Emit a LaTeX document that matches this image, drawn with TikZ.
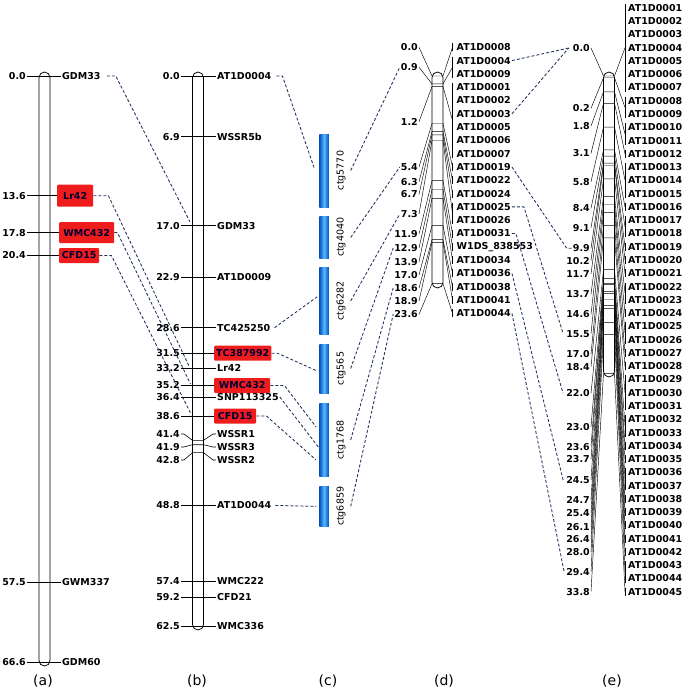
\documentclass[tikz,border=0pt]{standalone}
\usepackage{fontspec}
\setmainfont{DejaVu Sans}
\usetikzlibrary{calc,positioning}

\definecolor{lnk}{RGB}{30,48,95}
\definecolor{qtlred}{RGB}{238,28,28}
\definecolor{ctgdark}{RGB}{8,78,190}
\definecolor{ctglight}{RGB}{80,185,255}

\tikzstyle{chrom} = [draw=black, fill=white, line width=0.75pt, rounded corners=5.5pt, minimum width=11pt, inner sep=0pt]
\tikzstyle{cmnum} = [anchor=east, inner sep=1pt, font=\fontsize{9.5}{11}\selectfont\bfseries]
\tikzstyle{locus} = [anchor=west, inner sep=1pt, font=\fontsize{9.5}{11}\selectfont\bfseries]
\tikzstyle{qtl} = [locus, fill=qtlred, inner xsep=2pt, text=black!80!blue, rounded corners=1pt]
\tikzstyle{ctg} = [left color=ctgdark, right color=ctgdark, middle color=ctglight, minimum width=9.5pt, inner sep=0pt]
\tikzstyle{ctgname} = [rotate=90, inner sep=1pt, font=\fontsize{9.5}{10}\selectfont]
\tikzstyle{rung} = [black, line width=0.6pt]
\tikzstyle{fanline} = [black, line width=0.45pt]
\tikzstyle{hlink} = [lnk, densely dashed, line width=0.85pt]
\tikzstyle{panel} = [font=\fontsize{14}{16}\selectfont]

\begin{document}
\begin{tikzpicture}[x=1pt, y=-1pt]
    \useasboundingbox (0,0) rectangle (685,693);

    % chromosome (a)
    \node[chrom, minimum height=594pt] (chrA) at (44.5,369) {};
      \node[cmnum] (an1) at (27,76) {0.0};
      \node[locus] (am1) at (61,76) {GDM33};
      \node[cmnum] (an2) at (27,195.7) {13.6};
      \node[qtl, minimum width=36pt, minimum height=22pt] (am2) at (57,195.7) {Lr42};
      \node[cmnum] (an3) at (27,232.6) {17.8};
      \node[qtl, minimum width=55pt, minimum height=21pt] (am3) at (59,232.6) {WMC432};
      \node[cmnum] (an4) at (27,255.5) {20.4};
      \node[qtl, minimum width=40pt, minimum height=15pt] (am4) at (59,255.5) {CFD15};
      \node[cmnum] (an5) at (27,582) {57.5};
      \node[locus] (am5) at (61,582) {GWM337};
      \node[cmnum] (an6) at (27,662.1) {66.6};
      \node[locus] (am6) at (61,662.1) {GDM60};
      \draw[rung] (an1.east) -- (am1.west);
      \draw[rung] (an2.east) -- (am2.west);
      \draw[rung] (an3.east) -- (am3.west);
      \draw[rung] (an4.east) -- (am4.west);
      \draw[rung] (an5.east) -- (am5.west);
      \draw[rung] (an6.east) -- (am6.west);

    % chromosome (b)
    \node[chrom, minimum height=558pt] (chrB) at (198,351) {};
      \node[cmnum] (bn1) at (181,76) {0.0};
      \node[locus] (bm1) at (216,76) {AT1D0004};
      \node[cmnum] (bn2) at (181,136.7) {6.9};
      \node[locus] (bm2) at (216,136.7) {WSSR5b};
      \node[cmnum] (bn3) at (181,225.6) {17.0};
      \node[locus] (bm3) at (216,225.6) {GDM33};
      \node[cmnum] (bn4) at (181,277.5) {22.9};
      \node[locus] (bm4) at (216,277.5) {AT1D0009};
      \node[cmnum] (bn5) at (181,327.7) {28.6};
      \node[locus] (bm5) at (216,327.7) {TC425250};
      \node[cmnum] (bn6) at (181,353.2) {31.5};
      \node[qtl, minimum width=57pt, minimum height=15pt] (bm6) at (214,353.2) {TC387992};
      \node[cmnum] (bn7) at (181,368.2) {33.2};
      \node[locus] (bm7) at (216,368.2) {Lr42};
      \node[cmnum] (bn8) at (181,385.5) {35.2};
      \node[qtl, minimum width=56pt, minimum height=15pt] (bm8) at (214,385.5) {WMC432};
      \node[cmnum] (bn9) at (181,397) {36.4};
      \node[locus] (bm9) at (216,397) {SNP113325};
      \node[cmnum] (bn10) at (181,416) {38.6};
      \node[qtl, minimum width=42pt, minimum height=15pt] (bm10) at (214,416) {CFD15};
      \node[cmnum] (bn11) at (181,434) {41.4};
      \node[locus] (bm11) at (216,434) {WSSR1};
      \node[cmnum] (bn12) at (181,447) {41.9};
      \node[locus] (bm12) at (216,447) {WSSR3};
      \node[cmnum] (bn13) at (181,460) {42.8};
      \node[locus] (bm13) at (216,460) {WSSR2};
      \node[cmnum] (bn14) at (181,505.4) {48.8};
      \node[locus] (bm14) at (216,505.4) {AT1D0044};
      \node[cmnum] (bn15) at (181,581.1) {57.4};
      \node[locus] (bm15) at (216,581.1) {WMC222};
      \node[cmnum] (bn16) at (181,597) {59.2};
      \node[locus] (bm16) at (216,597) {CFD21};
      \node[cmnum] (bn17) at (181,626) {62.5};
      \node[locus] (bm17) at (216,626) {WMC336};
      \draw[rung] (bn1.east) -- (bm1.west);
      \draw[rung] (bn2.east) -- (bm2.west);
      \draw[rung] (bn3.east) -- (bm3.west);
      \draw[rung] (bn4.east) -- (bm4.west);
      \draw[rung] (bn5.east) -- (bm5.west);
      \draw[rung] (bn6.east) -- (bm6.west);
      \draw[rung] (bn7.east) -- (bm7.west);
      \draw[rung] (bn8.east) -- (bm8.west);
      \draw[rung] (bn9.east) -- (bm9.west);
      \draw[rung] (bn10.east) -- (bm10.west);
      \draw[rung] (bn11.east) -- ++(3,0) -- (192.5,440.3) -- (203.5,440.3) -- ([xshift=-3pt]bm11.west) -- (bm11.west);
      \draw[rung] (bn12.east) -- ++(3,0) -- (192.5,444.7) -- (203.5,444.7) -- ([xshift=-3pt]bm12.west) -- (bm12.west);
      \draw[rung] (bn13.east) -- ++(3,0) -- (192.5,452.6) -- (203.5,452.6) -- ([xshift=-3pt]bm13.west) -- (bm13.west);
      \draw[rung] (bn14.east) -- (bm14.west);
      \draw[rung] (bn15.east) -- (bm15.west);
      \draw[rung] (bn16.east) -- (bm16.west);
      \draw[rung] (bn17.east) -- (bm17.west);

    % contigs (c)
    \node[ctg, minimum height=73pt] (ctg5770) at (324,170.5) {};
    \node[ctg, minimum height=41.3pt] (ctg4040) at (324,237.4) {};
    \node[ctg, minimum height=66.3pt] (ctg6282) at (324,300.9) {};
    \node[ctg, minimum height=49pt] (ctg565) at (324,368.5) {};
    \node[ctg, minimum height=73.7pt] (ctg1768) at (324,439.9) {};
    \node[ctg, minimum height=40.7pt] (ctg6859) at (324,506.4) {};
      \node[ctgname] (l5770) at (341,170.5) {ctg5770};
      \node[ctgname] (l4040) at (341,237.4) {ctg4040};
      \node[ctgname] (l6282) at (341,300.9) {ctg6282};
      \node[ctgname] (l565) at (341,368.5) {ctg565};
      \node[ctgname] (l1768) at (341,439.9) {ctg1768};
      \node[ctgname] (l6859) at (341,506.4) {ctg6859};

    % chromosome (d)
    \node[chrom, minimum height=216pt] (chrD) at (437.5,180) {};
    \foreach \t [count=\i from 0] in {AT1D0008,AT1D0004,AT1D0009,AT1D0001,AT1D0002,AT1D0003,AT1D0005,
        AT1D0006,AT1D0007,AT1D0019,AT1D0022,AT1D0024,AT1D0025,AT1D0026,AT1D0031,W1DS\_838553,
        AT1D0034,AT1D0036,AT1D0038,AT1D0041,AT1D0044}
      \node[locus] (d\i) at (455.5,{47.3+13.3*\i}) {\t};
    \foreach \cm/\ly/\ra/\rb [count=\k] in {0.0/47.3/0/0, 0.9/67.3/1/2, 1.2/121.7/3/8, 5.4/167/9/9,
        6.3/181.7/10/10, 6.7/194.5/11/11, 7.3/214/12/13, 11.9/234/14/14, 12.9/248/15/15,
        13.9/262/16/16, 17.0/275/17/17, 18.6/288/18/18, 18.9/301/19/19, 23.6/314.3/20/20}{
      \node[cmnum] (dn\k) at (419,\ly) {\cm};
      \coordinate (dl\k) at (432,{76+8.8*\cm});
      \coordinate (dr\k) at (443,{76+8.8*\cm});
      \coordinate (db\k) at (452.5,{47.3+13.3*(\ra+\rb)/2});
      \draw[fanline] (dn\k.east) -- (dl\k) -- (dr\k) -- (db\k);
      \draw[fanline] (452.5,{47.3+13.3*\ra-4}) -- (452.5,{47.3+13.3*\rb+4});
    }

    % chromosome (e)
    \node[chrom, minimum height=305pt] (chrE) at (609,224.5) {};
    \foreach \i in {1,...,45}
      \node[locus] (e\i) at (627,{7.9+13.27*(\i-1)}) {AT1D00\ifnum\i<10 0\fi\i};
    \foreach \cm/\ly/\ra/\rb [count=\k] in {0.0/48/0/6, 0.2/108.3/7/8, 1.8/126/9/10, 3.1/153.3/11/11,
        5.8/181.7/12/14, 8.4/208.3/15/15, 9.1/227.7/16/17, 9.9/248.3/18/18, 10.2/260.7/19/19,
        11.7/274/20/20, 13.7/294.3/21/22, 14.6/314.3/23/23, 15.5/333.7/24/25, 17.0/354/26/26,
        18.4/366.7/27/27, 22.0/393.3/28/30, 23.0/426.7/31/32, 23.6/446.7/33/33, 23.7/459.3/34/34,
        24.5/480/35/36, 24.7/500/37/37, 25.4/513.3/38/38, 26.1/526.7/39/39, 26.4/539.3/40/40,
        28.0/552.3/41/41, 29.4/571.7/42/43, 33.8/591.7/44/44}{
      \node[cmnum] (en\k) at (591,\ly) {\cm};
      \coordinate (el\k) at (603.5,{76+8.8*\cm});
      \coordinate (er\k) at (614.5,{76+8.8*\cm});
      \coordinate (eb\k) at (625,{7.9+13.27*(\ra+\rb)/2});
      \draw[fanline] (en\k.east) -- (el\k) -- (er\k) -- (eb\k);
      \draw[fanline] (625,{7.9+13.27*\ra-4}) -- (625,{7.9+13.27*\rb+4});
    }

    % links (a) to (b)
    \coordinate (bt3) at (190,222);
    \coordinate (bt7) at (189,366);
    \coordinate (bt8) at (190.5,384);
    \coordinate (bt10) at (191,414);
    \draw[hlink] ([xshift=5pt]am1.east) -- ++(9,0) -- (bt3);
    \draw[hlink] (am2.east) -- ++(15,0) -- (bt7);
    \draw[hlink] (am3.east) -- ++(3,0) -- (bt8);
    \draw[hlink] (am4.east) -- ++(12,0) -- (bt10);

    % links (b) to (c)
    \draw[hlink] ([xshift=4pt]bm1.east) -- ++(6,0) -- ([xshift=-5pt,yshift=3pt]ctg5770.west);
    \draw[hlink] ([xshift=3pt]bm5.east) -- ([xshift=-2pt,yshift=4pt]ctg6282.west);
    \draw[hlink] (bm6.east) -- ++(6,0) -- ([xshift=-3pt,yshift=-2pt]ctg565.west);
    \draw[hlink] (bm8.east) -- ++(14,0) -- ([xshift=-3pt,yshift=13pt]ctg1768.west);
    \draw[hlink] (bm9.east) -- ([yshift=-8pt]ctg1768.west);
    \draw[hlink] (bm10.east) -- ++(10,0) -- ([xshift=-3pt,yshift=-20pt]ctg1768.west);
    \draw[hlink] ([xshift=3pt]bm14.east) -- ([xshift=-3pt]ctg6859.west);

    % links (c) to (d)
    \draw[hlink] ([xshift=4pt]l5770.south) -- (dn2.west);
    \draw[hlink] ([xshift=4pt]l4040.south) -- (dn4.west);
    \draw[hlink] ([xshift=4pt]l6282.south) -- (dn7.west);
    \draw[hlink] ([xshift=4pt]l565.south) -- (dn9.west);
    \draw[hlink] ([xshift=4pt]l1768.south) -- (dn12.west);
    \draw[hlink] ([xshift=4pt]l6859.south) -- (dn14.west);

    % links (d) to (e)
    \draw[hlink] (d1.east) -- ([xshift=-3pt]en1.west);
    \draw[hlink] (d5.east) -- ([xshift=-3pt]en1.west);
    \draw[hlink] (d9.east) -- ([xshift=-5pt]en8.west) -- (en8.west);
    \draw[hlink] (d12.east) -- ++(12,0) -- ([xshift=-2pt]en13.west);
    \draw[hlink] (d14.east) -- ++(4,0) -- ([xshift=-2pt]en16.west);
    \draw[hlink] (d17.east) -- ([xshift=-2pt]en20.west);
    \draw[hlink] (d20.east) -- ([xshift=-1pt]en26.west);

    % panel labels
    \node[panel] (pa) at (43,681) {(a)};
    \node[panel] (pb) at (197,681) {(b)};
    \node[panel] (pc) at (328,681) {(c)};
    \node[panel] (pd) at (444,681) {(d)};
    \node[panel] (pe) at (612,681) {(e)};
\end{tikzpicture}
\end{document}
